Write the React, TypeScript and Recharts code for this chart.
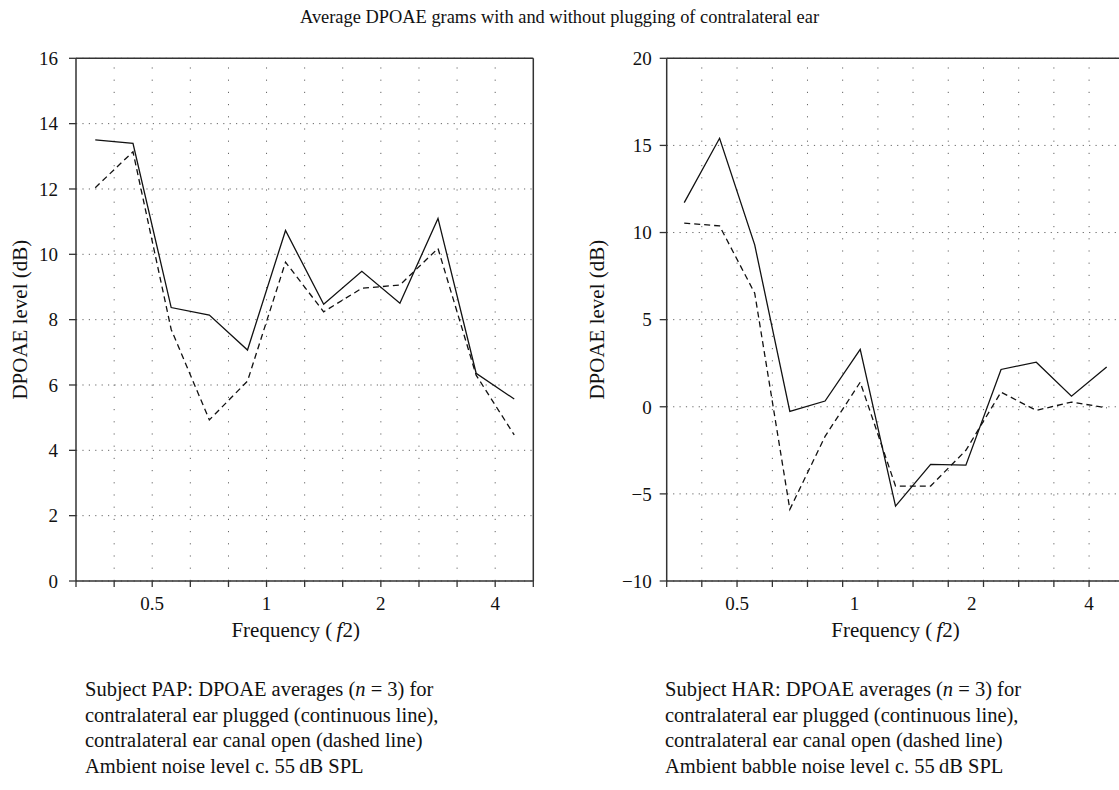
import React from 'react';
import { LineChart, Line, XAxis, YAxis, CartesianGrid, ReferenceLine } from 'recharts';

const FONT = '"Liberation Serif", "Times New Roman", serif';

// ---- Left panel: Subject PAP ----
const papFreq = [0.354, 0.445, 0.561, 0.707, 0.891, 1.122, 1.414, 1.782, 2.245, 2.828, 3.564, 4.49];
const papPlugged = [13.5, 13.4, 8.37, 8.14, 7.07, 10.73, 8.47, 9.48, 8.5, 11.1, 6.36, 5.57];
const papOpen = [12.04, 13.14, 7.7, 4.93, 6.12, 9.76, 8.24, 8.96, 9.06, 10.18, 6.3, 4.47];
const papMinorTicks = [0.315, 0.397, 0.5, 0.63, 0.794, 1, 1.26, 1.587, 2, 2.52, 3.175, 4, 5.04];
const papYTicks = [0, 2, 4, 6, 8, 10, 12, 14, 16];

// ---- Right panel: Subject HAR ----
const harFreq = [0.366, 0.451, 0.555, 0.683, 0.841, 1.035, 1.275, 1.569, 1.932, 2.378, 2.928, 3.605, 4.438];
const harPlugged = [11.72, 15.41, 9.29, -0.27, 0.33, 3.29, -5.7, -3.31, -3.35, 2.14, 2.56, 0.61, 2.28];
const harOpen = [10.54, 10.38, 6.52, -5.89, -1.7, 1.41, -4.55, -4.55, -2.5, 0.84, -0.21, 0.27, -0.06];
const harMinorTicks = [0.33, 0.406, 0.5, 0.616, 0.758, 0.933, 1.149, 1.414, 1.741, 2.144, 2.639, 3.249, 4, 4.925];
const harYTicks = [-10, -5, 0, 5, 10, 15, 20];

const freqLabels = [0.5, 1, 2, 4];

const title = 'Average DPOAE grams with and without plugging of contralateral ear';
const papCaption = [
  'Subject PAP: DPOAE averages (n = 3) for',
  'contralateral ear plugged (continuous line),',
  'contralateral ear canal open (dashed line)',
  'Ambient noise level c. 55\u2009dB SPL',
];
const harCaption = [
  'Subject HAR: DPOAE averages (n = 3) for',
  'contralateral ear plugged (continuous line),',
  'contralateral ear canal open (dashed line)',
  'Ambient babble noise level c. 55\u2009dB SPL',
];

const AXIS = '#333';
const GRID = '#666';
const INK = '#111';

const makeXTick = (minor: number[]) => (props: any) => {
  const { x, y, payload } = props;
  const v = payload.value;
  const isMinor = minor.includes(v);
  const isLabel = freqLabels.includes(v);
  return (
    <g>
      {isMinor && <line x1={x} x2={x} y1={y} y2={y + 6} stroke={AXIS} strokeWidth={1.3} />}
      {isLabel && (
        <text x={x} y={y + 29} textAnchor="middle" fontFamily={FONT} fontSize={19} fill={INK}>
          {String(v)}
        </text>
      )}
    </g>
  );
};

const fmtY = (v: number) => (v < 0 ? '\u2212' + Math.abs(v) : String(v));

function renderCaption(lines: string[]) {
  return lines.map((l, i) => {
    if (l.includes('(n = 3)')) {
      const [a, b] = l.split('(n = 3)');
      return (
        <div key={i}>
          {a}(<i>n</i> = 3){b}
        </div>
      );
    }
    return <div key={i}>{l}</div>;
  });
}

type PanelProps = {
  left: number;
  width: number;
  height: number;
  margin: { top: number; left: number; right: number; bottom: number };
  freq: number[];
  plugged: number[];
  open: number[];
  minorTicks: number[];
  yTicks: number[];
  yTickMargin: number;
  yLabelX: number;
  xLabelShift: number;
};

function Panel(p: PanelProps) {
  const data = p.freq.map((f, i) => ({ f, plugged: p.plugged[i], open: p.open[i] }));
  const xTicks = Array.from(new Set([...p.minorTicks, ...freqLabels])).sort((a, b) => a - b);
  const xDomain: [number, number] = [p.minorTicks[0], p.minorTicks[p.minorTicks.length - 1]];
  const yDomain: [number, number] = [p.yTicks[0], p.yTicks[p.yTicks.length - 1]];
  const XTick = makeXTick(p.minorTicks);
  const plotTop = p.margin.top;
  const plotBottom = p.height - p.margin.bottom - 30;
  const plotLeft = p.margin.left + 60;
  const plotRight = p.width - p.margin.right;

  const freqLabel = () => (
    <text
      x={(plotLeft + plotRight) / 2 + p.xLabelShift}
      y={plotBottom + 56}
      textAnchor="middle"
      fontFamily={FONT}
      fontSize={21}
      fill={INK}
    >
      Frequency ({'\u2009'}<tspan fontStyle="italic">f</tspan>2)
    </text>
  );
  const cy = (plotTop + plotBottom) / 2;
  const yLabel = () => (
    <text
      x={p.yLabelX}
      y={cy}
      transform={`rotate(-90, ${p.yLabelX}, ${cy})`}
      textAnchor="middle"
      dominantBaseline="central"
      fontFamily={FONT}
      fontSize={21}
      fill={INK}
    >
      DPOAE level (dB)
    </text>
  );

  return (
    <div style={{ position: 'absolute', left: p.left, top: 0 }}>
      <LineChart width={p.width} height={p.height} data={data} margin={p.margin}>
        <CartesianGrid vertical={false} stroke={GRID} strokeDasharray="1.2 5.2" />
        {p.minorTicks.slice(1, -1).map((t) => (
          <ReferenceLine key={t} x={t} stroke={GRID} strokeDasharray="1.2 11" />
        ))}
        <ReferenceLine y={yDomain[1]} stroke={AXIS} strokeWidth={1.5} />
        <ReferenceLine x={xDomain[1]} stroke={AXIS} strokeWidth={1.5} />
        <XAxis
          type="number"
          dataKey="f"
          scale="log"
          domain={xDomain}
          allowDataOverflow
          ticks={xTicks}
          interval={0}
          tickSize={0}
          tickMargin={0}
          tickLine={false}
          height={30}
          axisLine={{ stroke: AXIS, strokeWidth: 1.5 }}
          tick={XTick}
          label={freqLabel}
        />
        <YAxis
          type="number"
          domain={yDomain}
          ticks={p.yTicks}
          interval={0}
          width={60}
          tickSize={7}
          tickMargin={p.yTickMargin}
          tickFormatter={fmtY}
          axisLine={{ stroke: AXIS, strokeWidth: 1.5 }}
          tickLine={{ stroke: AXIS, strokeWidth: 1.3 }}
          tick={{ fontFamily: FONT, fontSize: 19, fill: INK }}
          label={yLabel}
        />
        <Line
          type="linear"
          dataKey="plugged"
          stroke={INK}
          strokeWidth={1.3}
          dot={false}
          isAnimationActive={false}
        />
        <Line
          type="linear"
          dataKey="open"
          stroke={INK}
          strokeWidth={1.3}
          strokeDasharray="6 4"
          dot={false}
          isAnimationActive={false}
        />
      </LineChart>
    </div>
  );
}

export default function App() {
  return (
    <div
      style={{
        position: 'fixed',
        left: 0,
        top: 0,
        width: 1119,
        height: 790,
        overflow: 'hidden',
        background: '#fff',
        fontFamily: FONT,
        color: INK,
      }}
    >
      <div
        style={{
          position: 'absolute',
          left: 0,
          top: 4,
          width: 1119,
          textAlign: 'center',
          fontSize: 18.4,
          lineHeight: '26px',
        }}
      >
        {title}
      </div>
      <Panel
        left={0}
        width={560}
        height={660}
        margin={{ top: 58.3, left: 16, right: 26.7, bottom: 49 }}
        freq={papFreq}
        plugged={papPlugged}
        open={papOpen}
        minorTicks={papMinorTicks}
        yTicks={papYTicks}
        yTickMargin={11}
        yLabelX={20}
        xLabelShift={-9}
      />
      <Panel
        left={560}
        width={600}
        height={660}
        margin={{ top: 58.3, left: 46.7, right: 35.7, bottom: 49 }}
        freq={harFreq}
        plugged={harPlugged}
        open={harOpen}
        minorTicks={harMinorTicks}
        yTicks={harYTicks}
        yTickMargin={8}
        yLabelX={37}
        xLabelShift={0}
      />
      <div style={{ position: 'absolute', left: 85, top: 677, fontSize: 20.5, lineHeight: '25.5px' }}>
        {renderCaption(papCaption)}
      </div>
      <div style={{ position: 'absolute', left: 665, top: 677, fontSize: 20.5, lineHeight: '25.5px' }}>
        {renderCaption(harCaption)}
      </div>
    </div>
  );
}
